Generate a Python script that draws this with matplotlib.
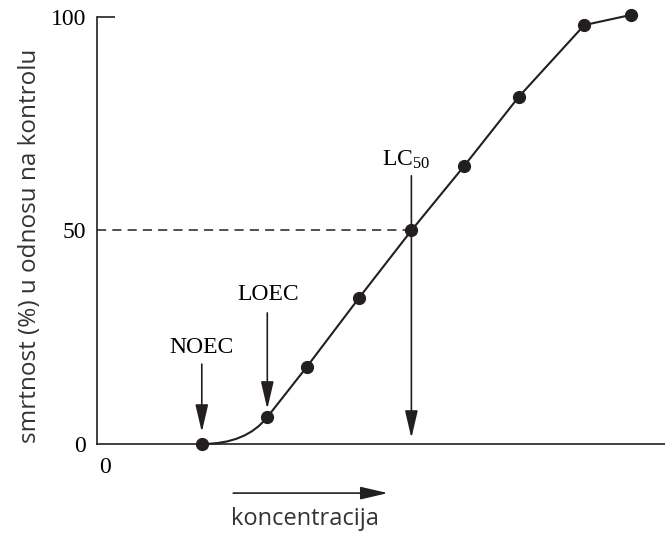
import numpy as np
import matplotlib
matplotlib.use("Agg")
import matplotlib.pyplot as plt
from matplotlib.path import Path
from matplotlib.patches import PathPatch

plt.rcParams['font.family'] = 'Liberation Serif'
plt.rcParams['mathtext.default'] = 'regular'

# data
conc = [2, 3.25, 4, 5, 6, 7, 8.05, 9.3, 10.2]
mort = [0, 6.3, 18, 34.2, 50, 65, 81.3, 98.1, 100.5]
ytick_vals = [0, 50, 100]
ytick_labels = ['0', '50', '100']

ink = '#231f20'

fig = plt.figure(figsize=(6.65, 5.33), dpi=100)
ax = fig.add_axes([97/665, 89/533, 568/665, 439/533])
ax.set_xlim(0, 10.84)
ax.set_ylim(0, 102.8)

# curve: smooth bend from NOEC to LOEC, then straight segments
verts = [(conc[0], mort[0]), (conc[1] - 0.4, mort[0]), (conc[1], mort[1])]
codes = [Path.MOVETO, Path.CURVE3, Path.CURVE3]
for x, y in zip(conc[2:], mort[2:]):
    verts.append((x, y))
    codes.append(Path.LINETO)
ax.add_patch(PathPatch(Path(verts, codes), facecolor='none', edgecolor=ink,
                       lw=1.5, clip_on=False))
ax.plot(conc, mort, 'o', color=ink, ms=8.5, clip_on=False, zorder=5)

# LC50 guide
ax.plot([0, conc[4]], [mort[4], mort[4]], color=ink, lw=1.1,
        dashes=(6, 4))

arrow = dict(arrowstyle='-|>,head_length=1.2,head_width=0.28', color=ink,
             lw=1.2, shrinkA=0, shrinkB=0, mutation_scale=14)

ax.annotate('', xy=(conc[0], 2.8), xytext=(conc[0], 18.7), arrowprops=arrow)
ax.text(conc[0], 22.7, 'NOEC', ha='center', va='center', fontsize=17)

ax.annotate('', xy=(conc[1], 8.2), xytext=(conc[1], 30.7), arrowprops=arrow)
ax.text(conc[1] + 0.02, 35.1, 'LOEC', ha='center', va='center', fontsize=17)

ax.annotate('', xy=(conc[4], 1.4), xytext=(conc[4], 62.8), arrowprops=arrow)
ax.text(conc[4] - 0.1, 66.5, 'LC$_{50}$', ha='center', va='center',
        fontsize=17)

# x direction arrow and labels below the axis
ax.annotate('', xy=(5.55, -11.5), xytext=(2.6, -11.5), arrowprops=arrow,
            annotation_clip=False)
ax.text(3.97, -17.5, 'koncentracija', ha='center', va='center',
        fontsize=17, family='Open Sans', color='#333333', clip_on=False)
ax.text(0.15, -5.4, '0', ha='center', va='center', fontsize=17,
        clip_on=False)

# y axis
ax.set_yticks(ytick_vals)
ax.set_yticklabels(ytick_labels, fontsize=17)
ax.tick_params(axis='y', length=0, pad=8)
ax.set_xticks([])
ax.hlines(100, 0, 0.34, color=ink, lw=1.2)

ax.spines['top'].set_visible(False)
ax.spines['right'].set_visible(False)
ax.spines['left'].set_bounds(0, 100)
for s in ['left', 'bottom']:
    ax.spines[s].set_color(ink)
    ax.spines[s].set_linewidth(1.2)

fig.text(30/665, (533 - 246)/533, 'smrtnost (%) u odnosu na kontrolu',
         rotation=90, ha='center', va='center', fontsize=17.5,
         family='Open Sans', color='#333333')

fig.savefig('out.png', dpi=100, facecolor='white')
